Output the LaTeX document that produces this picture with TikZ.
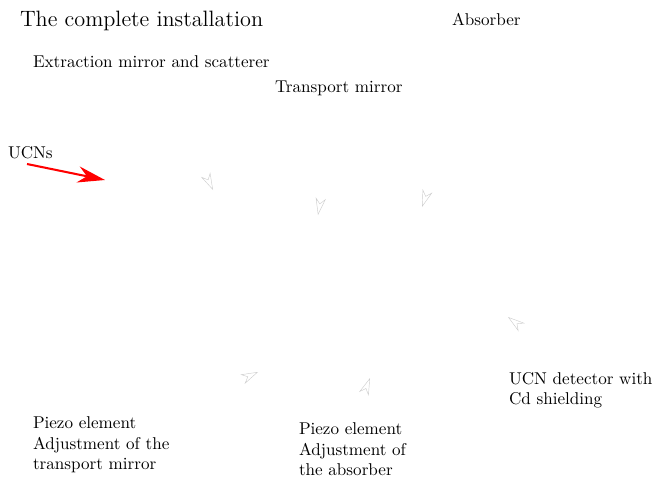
\documentclass[tikz,border=0pt]{standalone}
\usetikzlibrary{arrows.meta}
\begin{document}
\begin{tikzpicture}[x=0.585pt,y=-0.585pt,
  lbl/.style={inner sep=0pt,outer sep=0pt,font=\normalsize},
  mlbl/.style={inner sep=0pt,outer sep=0pt,align=left,anchor=north west,font=\normalsize},
  ghost/.style={draw=white,line width=0.25pt,shorten <=2pt,-{Stealth[open,length=10pt,width=6pt,color=black!20]}},
  beam/.style={draw=red,line width=1.2pt,-{Stealth[length=16pt,width=9.5pt]}}]
\useasboundingbox (0,0) rectangle (653,479);
% labels
\node[lbl,anchor=base west,font=\fontsize{13}{15}\selectfont] (title) at (20,27) {The complete installation};
\node[lbl,anchor=base west] (abs) at (452,26) {Absorber};
\node[lbl,anchor=base west] (ext) at (33,68) {Extraction mirror and scatterer};
\node[lbl,anchor=base west] (tra) at (275,93) {Transport mirror};
\node[lbl,anchor=base west] (ucns) at (8,158) {UCNs};
\node[mlbl] (det) at (509,372) {UCN detector with\\Cd shielding};
\node[mlbl] (pz1) at (33,417) {Piezo element\\Adjustment of the\\transport mirror};
\node[mlbl] (pz2) at (299,423) {Piezo element\\Adjustment of\\the absorber};
% tips
\coordinate (t1) at (213,190);
\coordinate (t2) at (318,215);
\coordinate (t3) at (422,207);
\coordinate (t4) at (508,317);
\coordinate (t5) at (258,372);
\coordinate (t6) at (370,378);
\coordinate (bs) at (27,164);
\coordinate (bt) at (105,180);
% connectors
\draw[beam] (bs) -- (bt);
\draw[ghost] (ext) -- (t1);
\draw[ghost] (tra) -- (t2);
\draw[ghost] (abs) -- (t3);
\draw[ghost] (det.north) -- (t4);
\draw[ghost] (pz1) -- (t5);
\draw[ghost] (pz2.north) -- (t6);
\end{tikzpicture}
\end{document}
